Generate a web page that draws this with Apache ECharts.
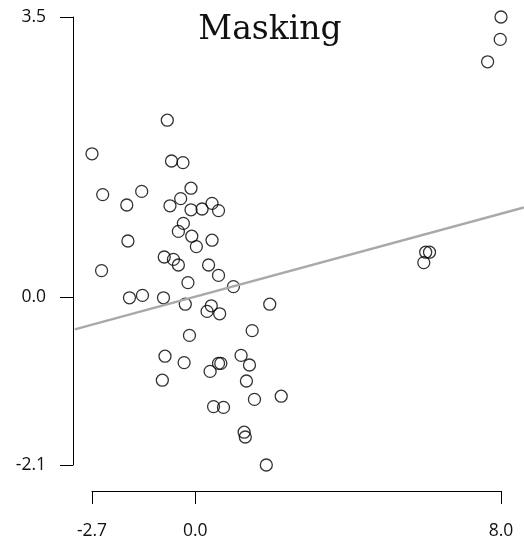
<!doctype html>
<html lang="en">
  <head>
    <meta charset="UTF-8" />
    <title>Masking</title>
    <style>
      html, body { margin: 0; padding: 0; background: #fff; }
      #chart { width: 524px; height: 545px; }
    </style>
  </head>
  <body>
    <div id="chart"></div>

    <script src="https://cdn.jsdelivr.net/npm/echarts@6/dist/echarts.min.js"></script>
    <script>
      // data
      const xValues = [
        -2.70, -0.73, -2.42, -1.40, -1.79, -0.62, -0.32, -0.11, -0.66, -0.38,
        -0.11, 0.18, 0.44, 0.61, -0.31, -0.44, -0.09, 0.03, 0.44, -1.76,
        -0.81, -0.57, -0.44, 0.35, 0.61, -2.45, -0.19, 1.00, -1.72, -1.38,
        -0.83, -0.26, 0.42, 0.31, 0.64, 1.95, -0.15, 1.49, -0.79, -0.29,
        0.39, 0.61, 0.67, 1.20, 1.42, -0.86, 1.34, 1.55, 2.25, 0.48,
        0.74, 1.28, 1.31, 1.86, 8.00, 7.98, 7.65, 6.03, 6.13, 5.98
      ]
      const yValues = [
        1.79, 2.21, 1.28, 1.32, 1.15, 1.70, 1.68, 1.36, 1.14, 1.23,
        1.09, 1.10, 1.17, 1.08, 0.92, 0.82, 0.76, 0.63, 0.71, 0.70,
        0.50, 0.47, 0.40, 0.40, 0.27, 0.33, 0.18, 0.13, -0.01, 0.02,
        -0.01, -0.09, -0.11, -0.18, -0.21, -0.09, -0.48, -0.42, -0.74, -0.82,
        -0.93, -0.83, -0.83, -0.73, -0.85, -1.04, -1.05, -1.28, -1.24, -1.37,
        -1.38, -1.69, -1.75, -2.10, 3.50, 3.22, 2.94, 0.56, 0.56, 0.43
      ]
      const xTicks = [-2.7, 0.0, 8.0]
      const yTicks = [-2.1, 0.0, 3.5]

      // fitted line y = a + b x
      const fitIntercept = 0.01
      const fitSlope = 0.13

      // plotting region (data range padded), the line is clipped to it
      const xRegion = [-3.15, 8.6]
      const yRegion = [-2.33, 3.73]

      const points = xValues.map((x, i) => [x, yValues[i]])
      const fitLine = xRegion.map(x => [x, fitIntercept + fitSlope * x])

      // frame (tick range) box in pixels; region box follows from the same scale
      const frame = { left: 92, top: 17, width: 409, height: 448 }
      const xMin = xTicks[0], xMax = xTicks[xTicks.length - 1]
      const yMin = yTicks[0], yMax = yTicks[yTicks.length - 1]
      const kx = frame.width / (xMax - xMin)
      const ky = frame.height / (yMax - yMin)
      const region = {
        left: frame.left - (xMin - xRegion[0]) * kx,
        top: frame.top - (yRegion[1] - yMax) * ky,
        width: (xRegion[1] - xRegion[0]) * kx,
        height: (yRegion[1] - yRegion[0]) * ky
      }

      const chart = echarts.init(document.querySelector('#chart'))
      const labelFont = { fontFamily: 'Open Sans', fontSize: 17.5, color: '#111' }
      const hiddenAxis = {
        type: 'value',
        show: false,
        splitLine: { show: false }
      }

      chart.setOption({
        animation: false,
        title: {
          text: 'Masking',
          left: 265,
          top: 9,
          textAlign: 'center',
          textStyle: { fontFamily: 'DejaVu Serif', fontWeight: 'normal', fontSize: 33, color: '#111' }
        },
        grid: [
          { ...frame },
          { ...region }
        ],
        xAxis: [
          {
            type: 'value',
            gridIndex: 0,
            min: xMin,
            max: xMax,
            offset: 26,
            splitLine: { show: false },
            axisLine: { onZero: false, lineStyle: { color: '#000', width: 1 } },
            axisTick: { customValues: xTicks, length: 13, lineStyle: { color: '#000' } },
            axisLabel: {
              customValues: xTicks,
              margin: 31,
              formatter: v => v.toFixed(1),
              ...labelFont
            }
          },
          { ...hiddenAxis, gridIndex: 1, min: xRegion[0], max: xRegion[1] }
        ],
        yAxis: [
          {
            type: 'value',
            gridIndex: 0,
            min: yMin,
            max: yMax,
            offset: 19,
            splitLine: { show: false },
            axisLine: { onZero: false, lineStyle: { color: '#000', width: 1 } },
            axisTick: { customValues: yTicks, length: 13, lineStyle: { color: '#000' } },
            axisLabel: {
              customValues: yTicks,
              margin: 27,
              formatter: v => v.toFixed(1),
              ...labelFont
            }
          },
          { ...hiddenAxis, gridIndex: 1, min: yRegion[0], max: yRegion[1] }
        ],
        series: [
          {
            type: 'scatter',
            xAxisIndex: 0,
            yAxisIndex: 0,
            data: points,
            symbol: 'circle',
            symbolSize: 12,
            clip: false,
            itemStyle: { color: 'transparent', borderColor: '#000', borderWidth: 1.3 },
            z: 2
          },
          {
            type: 'line',
            xAxisIndex: 1,
            yAxisIndex: 1,
            data: fitLine,
            showSymbol: false,
            lineStyle: { color: '#a9a9a9', width: 2.5 },
            z: 3
          }
        ]
      })
    </script>
  </body>
</html>
